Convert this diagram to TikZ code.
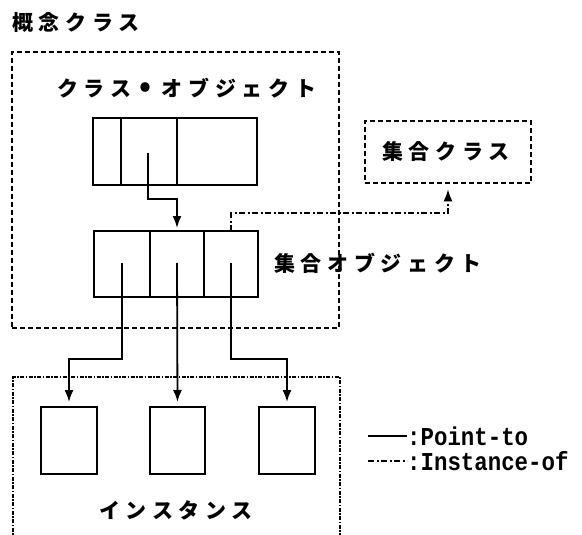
\documentclass[tikz,border=0pt]{standalone}
\usepackage{fontspec}
\setmainfont{Noto Sans CJK JP}
\newfontfamily\jp[LetterSpace=27]{Noto Sans CJK JP}
\newfontfamily\lmono{Liberation Mono}
\usetikzlibrary{arrows.meta}
\tikzset{
  cell/.style={draw, line width=2.8pt, inner sep=0pt, outer sep=0pt, minimum height=#1},
  frame/.style={draw, line width=2.6pt, dash pattern=on 5pt off 3pt},
  pt/.style={line width=1.8pt},
  ptarrow/.style={pt, -{Latex[length=12pt,width=9pt]}},
  io/.style={line width=1.8pt, dash pattern=on 6pt off 2.5pt on 2pt off 2.5pt},
  ioarrow/.style={io, -{Latex[length=12pt,width=9pt]}},
  jlabel/.style={anchor=west, inner sep=0pt, font=\jp\bfseries\fontsize{21}{21}\selectfont},
  mlabel/.style={anchor=west, inner sep=0pt, font=\lmono\bfseries\fontsize{22.4}{22.4}\selectfont, yscale=1.15}
}
\begin{document}
\begin{tikzpicture}[x=1pt,y=-1pt]
\useasboundingbox (0,0) rectangle (582,535);
% title
\node[jlabel] (title) at (12,23) {概念クラス};
% concept class frame
\node[frame, minimum width=327pt, minimum height=276pt, inner sep=0pt] (concept) at (175.5,190) {};
\node[jlabel] (colabel) at (57,88) {クラス\hspace{4pt}\makebox[21pt]{\fontsize{30}{21}\selectfont •}\hspace{5.7pt}オブジェクト};
% class object cells
\node[cell=67pt, minimum width=28pt] (co1) at (107,151.5) {};
\node[cell=67pt, minimum width=56pt] (co2) at (149,151.5) {};
\node[cell=67pt, minimum width=80pt] (co3) at (217,151.5) {};
% collective object cells
\node[cell=66pt, minimum width=56pt] (so1) at (122,264) {};
\node[cell=66pt, minimum width=54pt] (so2) at (177,264) {};
\node[cell=66pt, minimum width=54pt] (so3) at (231,264) {};
\node[jlabel] (solabel) at (274,263) {集合オブジェクト};
% collective class
\node[frame, minimum width=166pt, minimum height=62pt, inner sep=0pt] (cc) at (448,152) {};
\node[jlabel] (cclabel) at (382,152) {集合クラス};
% instance frame
\coordinate (ibl) at (13,540);
\coordinate (itl) at (13,377);
\coordinate (itr) at (340,377);
\coordinate (ibr) at (340,540);
\draw[line width=2.4pt, dash pattern=on 4pt off 1.5pt on 1.5pt off 1.5pt] (ibl) -- (itl) -- (itr) -- (ibr);
% instances
\node[cell=67pt, minimum width=56pt] (i1) at (69,440.5) {};
\node[cell=67pt, minimum width=55pt] (i2) at (177.5,440.5) {};
\node[cell=67pt, minimum width=56pt] (i3) at (287,440.5) {};
\node[jlabel] (ilabel) at (99,510) {インスタンス};
% pointers
\coordinate (p0) at (148,153);
\coordinate (p1) at (122,263);
\coordinate (p2) at (177,263);
\coordinate (p3) at (231,263);
\draw[ptarrow, shorten >=3pt] (p0) -- ++(0,46) -| (so2.north);
\draw[ptarrow, shorten >=5pt] (p1) -- ++(0,96) -| (i1.north);
\draw[ptarrow, shorten >=5pt] (p2) -- (i2.north);
\draw[ptarrow, shorten >=5pt] (p3) -- ++(0,96) -| (i3.north);
% instance-of
\draw[ioarrow, shorten >=5pt] (so3.north) -- ++(0,-18) -| (cc.south);
% legend
\coordinate (l1a) at (368,436);
\coordinate (l1b) at (407,436);
\coordinate (l2a) at (368,461);
\coordinate (l2b) at (407,461);
\draw[line width=2.4pt] (l1a) -- (l1b);
\draw[io] (l2a) -- (l2b);
\node[mlabel] (leg1) at (l1b) {:Point-to};
\node[mlabel] (leg2) at (l2b) {:Instance-of};
\end{tikzpicture}
\end{document}
